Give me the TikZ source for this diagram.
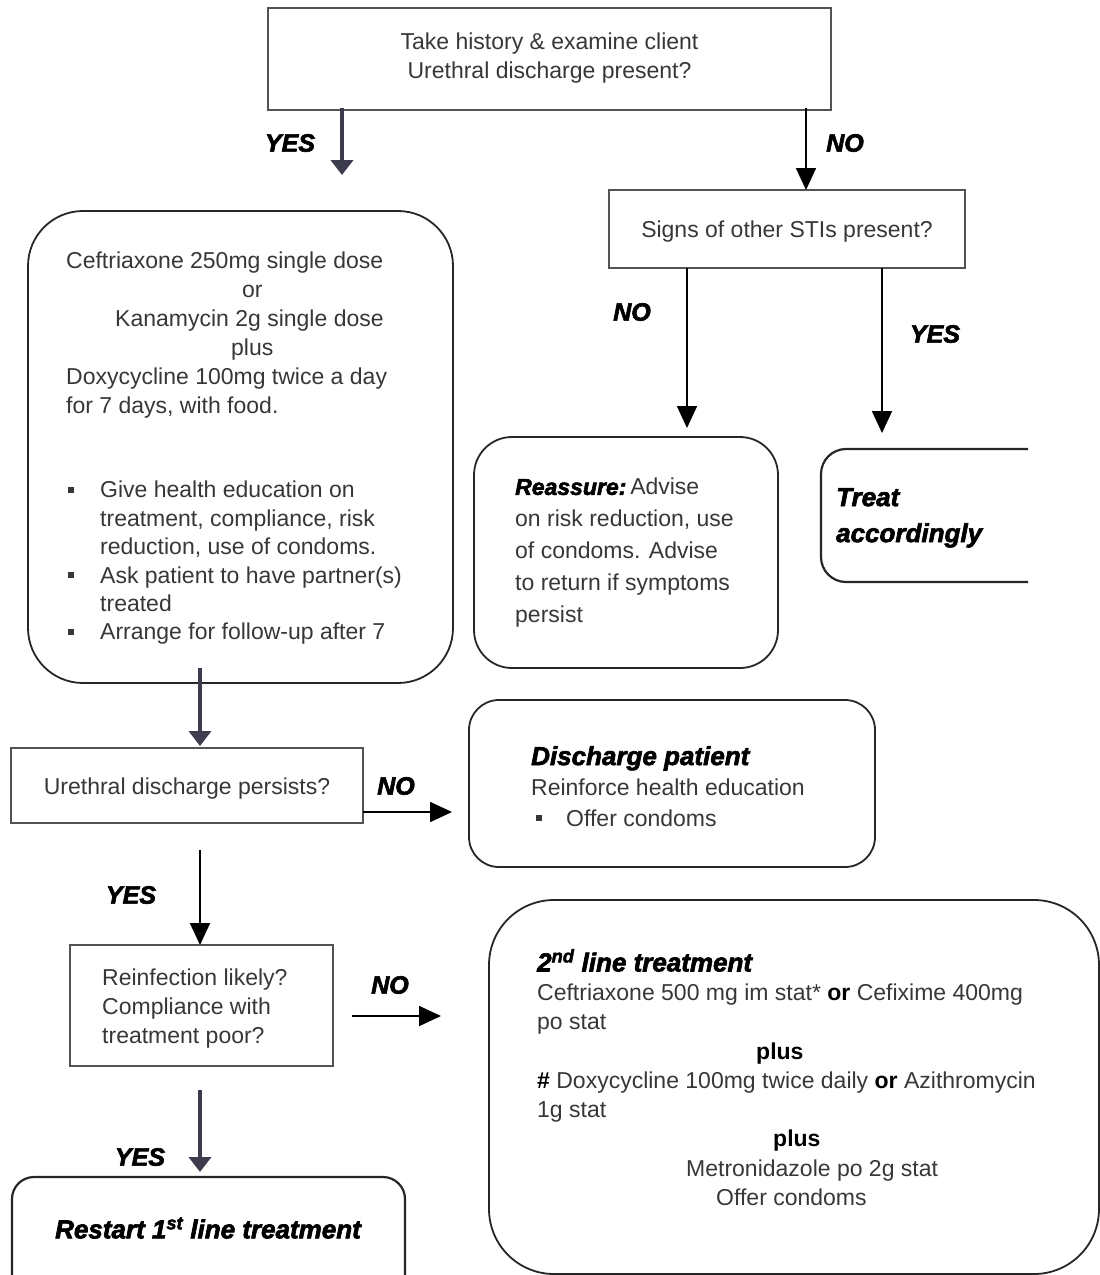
\documentclass[tikz,border=0pt]{standalone}
\usepackage{fontspec}
\setmainfont{Liberation Sans}
\newfontfamily\blackfont{Liberation Sans Bold Italic}[FakeBold=2.5]
\usetikzlibrary{arrows.meta}

\definecolor{inkgray}{RGB}{55,55,55}
\definecolor{fatblue}{RGB}{60,60,78}
\newcommand{\sqbul}{\rule[0.22em]{0.27em}{0.27em}}
\newcommand{\heavy}{\blackfont\color{black}}

\tikzset{
  sqbox/.style={draw=black!68, line width=1.4pt, inner sep=0pt, outer sep=0pt},
  rndbox/.style={draw=black!85, line width=1.8pt, inner sep=0pt, outer sep=0pt, rounded corners=#1},
  rndbox/.default=30pt,
  bodytxt/.style={inner sep=0pt, text=inkgray, font=\fontsize{23}{29}\selectfont},
  yesno/.style={inner sep=0pt, font=\fontsize{25}{30}\selectfont\heavy},
  flowarrow/.style={line width=1.8pt, -{Triangle[length=22pt,width=20pt]}},
  fatarrow/.style={draw=fatblue, line width=4pt, -{Triangle[length=15pt,width=22pt]}}
}

\begin{document}
\begin{tikzpicture}[x=1pt,y=-1pt]
\useasboundingbox (0,0) rectangle (1100,1275);

%Shape: Rectangle
\node[sqbox, minimum width=563pt, minimum height=102pt] (hist) at (549.5,59) {};
%Shape: Rectangle
\node[sqbox, minimum width=356pt, minimum height=78pt] (sti) at (787,229) {};
%Shape: Rounded Rectangle
\node[rndbox=55pt, minimum width=425pt, minimum height=472pt] (first) at (240.5,447) {};
%Shape: Rounded Rectangle
\node[rndbox=38pt, minimum width=304pt, minimum height=231pt] (reassure) at (626,552.5) {};
%Shape: Rounded Rectangle (cut at the right)
\begin{scope}
\clip (0,0) rectangle (1028,1275);
\node[rndbox=25pt, line width=2.2pt, minimum width=254pt, minimum height=133pt] (treat) at (948,515.5) {};
\end{scope}
%Shape: Rectangle
\node[sqbox, minimum width=352pt, minimum height=75pt] (persist) at (187,785.5) {};
%Shape: Rounded Rectangle
\node[rndbox=30pt, minimum width=406pt, minimum height=167pt] (discharge) at (672,783.5) {};
%Shape: Rectangle
\node[sqbox, minimum width=263pt, minimum height=121pt] (reinf) at (201.5,1005.5) {};
%Shape: Rounded Rectangle
\node[rndbox=65pt, minimum width=610pt, minimum height=374pt] (second) at (794,1087) {};
%Shape: Rounded Rectangle
\node[rndbox=22pt, line width=2.2pt, minimum width=393pt, minimum height=143pt] (restart) at (208.5,1248.5) {};

%Straight Lines
\coordinate (yesfree) at (342,175);
\draw[fatarrow] ([xshift=74pt,yshift=2pt]hist.south west) -- (yesfree);
\draw[flowarrow] ([xshift=538pt,yshift=2pt]hist.south west) -- ([xshift=197pt]sti.north west);
\draw[flowarrow] ([xshift=78pt]sti.south west) -- ([xshift=213pt,yshift=9pt]reassure.north west);
\draw[flowarrow] ([xshift=273pt]sti.south west) -- ([xshift=61pt,yshift=16pt]treat.north west);
\draw[fatarrow] ([xshift=172pt,yshift=15pt]first.south west) -- ([xshift=189pt,yshift=2pt]persist.north west);
\draw[flowarrow] ([yshift=11pt]persist.south east) -- ([xshift=-17pt,yshift=-28.5pt]discharge.west);
\draw[flowarrow] ([xshift=189pt,yshift=-27pt]persist.south west) -- ([xshift=130pt]reinf.north west);
\draw[flowarrow] ([xshift=19pt,yshift=-10.5pt]reinf.east) -- ([xshift=-48pt,yshift=71pt]second.west);
\draw[fatarrow] ([xshift=130pt,yshift=-24pt]reinf.south west) -- ([xshift=188pt,yshift=5pt]restart.north west);

% Text Node
\node[yesno] (yesA) at (290,143) {YES};
% Text Node
\node[yesno] (noA) at (845,143) {NO};
% Text Node
\node[yesno] (noB) at (632,312) {NO};
% Text Node
\node[yesno] (yesB) at (935,334) {YES};
% Text Node
\node[yesno] (noC) at (396,786) {NO};
% Text Node
\node[yesno] (yesC) at (131,895) {YES};
% Text Node
\node[yesno] (noD) at (390,985) {NO};
% Text Node
\node[yesno] (yesD) at (140,1157) {YES};

% Text Node
\node[bodytxt, align=center] (histtxt) at (549.5,58) {Take history \& examine client\\Urethral discharge present?};
% Text Node
\node[bodytxt] (stitxt) at (787,232) {Signs of other STIs present?};
% Text Node
\node[bodytxt] (persisttxt) at (187,789) {Urethral discharge persists?};
% Text Node
\node[bodytxt, anchor=north west, align=left] (reinftxt) at (102,969) {Reinfection likely?\\Compliance with\\treatment poor?};
% Text Node
\node[bodytxt, anchor=north west, align=left] (firstdrug) at (66,252) {Ceftriaxone 250mg single dose\\ \hspace*{176pt}or\\ \hspace*{49pt}Kanamycin 2g single dose\\ \hspace*{165pt}plus\\ Doxycycline 100mg twice a day\\ for 7 days, with food.};
% Text Node
\node[bodytxt, font=\fontsize{23}{28.4}\selectfont, anchor=north west, align=left] (firstcare) at (68,481) {\makebox[32pt][l]{\sqbul}Give health education on\\ \hspace*{32pt}treatment, compliance, risk\\ \hspace*{32pt}reduction, use of condoms.\\ \makebox[32pt][l]{\sqbul}Ask patient to have partner(s)\\ \hspace*{32pt}treated\\ \makebox[32pt][l]{\sqbul}Arrange for follow-up after 7};
% Text Node
\node[bodytxt, font=\fontsize{23}{32}\selectfont, anchor=north west, align=left] (reassuretxt) at (515,478) {{\heavy Reassure:}\,Advise\\on risk reduction, use\\of condoms. Advise\\to return if symptoms\\persist};
% Text Node
\node[yesno, font=\fontsize{26}{36}\selectfont\heavy, anchor=north west, align=left] (treattxt) at (836,488) {Treat\\accordingly};
% Text Node
\node[bodytxt, font=\fontsize{23}{30.5}\selectfont, anchor=north west, align=left] (dischargetxt) at (531,746) {{\fontsize{26}{30.5}\selectfont\heavy Discharge patient}\\Reinforce health education\\ \makebox[35pt][l]{\hspace*{5pt}\sqbul}Offer condoms};
% Text Node
\node[bodytxt, font=\fontsize{23}{29.25}\selectfont, anchor=north west, align=left] (secondtxt) at (537,949) {{\fontsize{26}{29.25}\selectfont\heavy 2\textsuperscript{nd} line treatment}\\Ceftriaxone 500 mg im stat* {\color{black}\textbf{or}} Cefixime 400mg\\po stat\\ \hspace*{219pt}{\color{black}\textbf{plus}}\\ {\color{black}\textbf{\#}} Doxycycline 100mg twice daily {\color{black}\textbf{or}} Azithromycin\\1g stat\\ \hspace*{236pt}{\color{black}\textbf{plus}}\\ \hspace*{149pt}Metronidazole po 2g stat\\ \hspace*{179pt}Offer condoms};
% Text Node
\node[yesno, font=\fontsize{26}{30}\selectfont\heavy] (restarttxt) at (208,1228) {Restart 1\textsuperscript{st} line treatment};

\end{tikzpicture}
\end{document}
